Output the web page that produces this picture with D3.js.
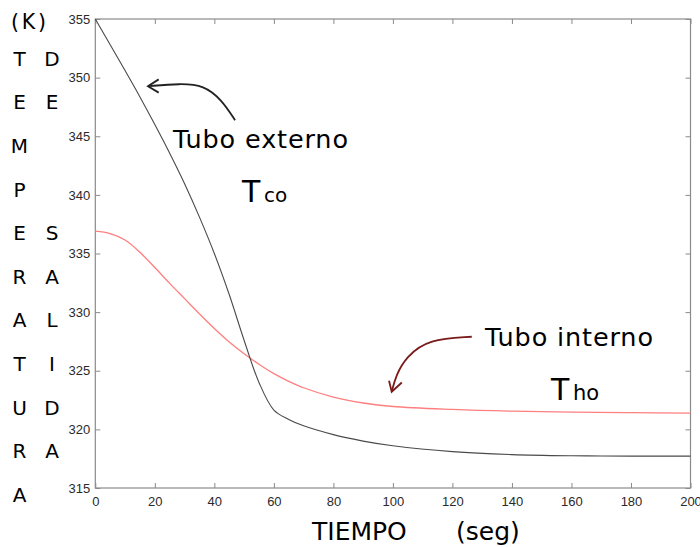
<!DOCTYPE html>
<html>
<head>
<meta charset="utf-8">
<script src="https://cdn.jsdelivr.net/npm/d3@7"></script>
<style>
  html, body { margin: 0; padding: 0; background: #fff; }
  svg { display: block; }
</style>
</head>
<body>
<svg id="chart" width="700" height="547"></svg>
<script>
// ---- data ----
const tiempo = [0, 5, 10, 15, 20, 25, 30, 35, 40, 45, 50, 55, 60, 65, 70, 80, 90, 100, 120, 140, 160, 180, 200];
const tuboExterno = [355, 352.8, 350.6, 348.35, 346.0, 343.55, 340.95, 338.1, 335.0, 331.5, 327.6, 324.0, 321.65, 320.85, 320.3, 319.55, 319.0, 318.6, 318.1, 317.85, 317.75, 317.72, 317.72];
const tuboInterno = [336.9, 336.7, 336.15, 335.1, 333.8, 332.45, 331.15, 329.85, 328.6, 327.45, 326.45, 325.55, 324.75, 324.1, 323.55, 322.75, 322.25, 321.95, 321.7, 321.55, 321.47, 321.42, 321.38];
const xTicks = [0, 20, 40, 60, 80, 100, 120, 140, 160, 180, 200];
const yTicks = [315, 320, 325, 330, 335, 340, 345, 350, 355];
const col1Letters = ["T", "E", "M", "P", "E", "R", "A", "T", "U", "R", "A"];
const col2Letters = ["D", "E", "", "", "S", "A", "L", "I", "D", "A", ""];
// annotation arrows in data units (t, T)
const arrowExterno = [[46.96, 346.37], [42.5, 348.1], [36.5, 349.35], [28.5, 349.5], [17.7, 349.27]];
const arrowExternoHead = [[21.3, 349.85], [17.7, 349.27], [21.3, 348.72]];
const arrowInterno = [[126.5, 327.9], [112.0, 327.7], [104.5, 326.2], [101.0, 324.6], [99.6, 323.21]];
const arrowInternoHead = [[98.7, 324.15], [99.6, 323.21], [103.0, 324.0]];

const svg = d3.select("#chart");
svg.append("rect").attr("width", 700).attr("height", 547).attr("fill", "#fff");

const L = 95.3, R = 690.5, T = 19, B = 488;
const x = d3.scaleLinear().domain([0, 200]).range([L, R]);
const y = d3.scaleLinear().domain([315, 355]).range([B, T]);

const axisColor = "#8a8a8a";
const tickFont = "'Liberation Sans', Arial, sans-serif";

function styleAxis(g, showLabels) {
  g.select(".domain").remove();
  g.selectAll(".tick line").attr("stroke", axisColor).attr("stroke-width", 1);
  g.selectAll(".tick text")
    .attr("fill", "#2a2a2a")
    .style("font-family", tickFont)
    .style("font-size", "13px");
  if (!showLabels) g.selectAll(".tick text").remove();
}

svg.append("g").attr("transform", `translate(0,${B})`)
  .call(d3.axisBottom(x).tickValues(xTicks).tickSizeInner(-5).tickSizeOuter(0).tickPadding(9))
  .call(g => styleAxis(g, true));
svg.append("g").attr("transform", `translate(0,${T})`)
  .call(d3.axisTop(x).tickValues(xTicks).tickSizeInner(-5).tickSizeOuter(0))
  .call(g => styleAxis(g, false));
svg.append("g").attr("transform", `translate(${L},0)`)
  .call(d3.axisLeft(y).tickValues(yTicks).tickSizeInner(-5).tickSizeOuter(0).tickPadding(5))
  .call(g => styleAxis(g, true));
svg.append("g").attr("transform", `translate(${R},0)`)
  .call(d3.axisRight(y).tickValues(yTicks).tickSizeInner(-5).tickSizeOuter(0))
  .call(g => styleAxis(g, false));

// frame
svg.append("rect")
  .attr("x", L).attr("y", T).attr("width", R - L).attr("height", B - T)
  .attr("fill", "none").attr("stroke", axisColor).attr("stroke-width", 1.2);

// lines
const line = d3.line().x((d, i) => x(tiempo[i])).y(d => y(d)).curve(d3.curveCatmullRom.alpha(0.5));
svg.append("path").datum(tuboInterno).attr("d", line)
  .attr("fill", "none").attr("stroke", "#ff7f7f").attr("stroke-width", 1.3);
svg.append("path").datum(tuboExterno).attr("d", line)
  .attr("fill", "none").attr("stroke", "#4a4a4a").attr("stroke-width", 1.1);

// annotation arrows
const aLine = d3.line().x(d => x(d[0])).y(d => y(d[1])).curve(d3.curveBasis);
const hLine = d3.line().x(d => x(d[0])).y(d => y(d[1]));
svg.append("path").attr("d", aLine(arrowExterno)).attr("fill", "none").attr("stroke", "#222").attr("stroke-width", 1.8);
svg.append("path").attr("d", hLine(arrowExternoHead)).attr("fill", "none").attr("stroke", "#222").attr("stroke-width", 1.8);
svg.append("path").attr("d", aLine(arrowInterno)).attr("fill", "none").attr("stroke", "#7a1a1a").attr("stroke-width", 1.8);
svg.append("path").attr("d", hLine(arrowInternoHead)).attr("fill", "none").attr("stroke", "#7a1a1a").attr("stroke-width", 1.8);

const font = "'DejaVu Sans', Verdana, sans-serif";
function txt(xp, yp, s, size, anchor) {
  return svg.append("text").attr("x", xp).attr("y", yp).text(s)
    .attr("fill", "#000").attr("text-anchor", anchor || "start")
    .style("font-family", font).style("font-size", size + "px");
}

// annotations
txt(173, 148, "Tubo externo", 25.5).attr("textLength", 175);
txt(242, 202, "T", 30);
txt(264, 202, "co", 20);
txt(485, 346, "Tubo interno", 25.5).attr("textLength", 168);
txt(551, 400, "T", 30);
txt(573, 400, "ho", 21);

// axis titles
txt(312, 540, "TIEMPO", 25);
txt(456, 540, "(seg)", 25);

txt(11, 29, "(K)", 20.5).attr("textLength", 35);
col1Letters.forEach((c, i) => { if (c) txt(19.5, 65.7 + 43.6 * i, c, 20, "middle"); });
col2Letters.forEach((c, i) => { if (c) txt(52, 65.7 + 43.6 * i, c, 20, "middle"); });
</script>
</body>
</html>
